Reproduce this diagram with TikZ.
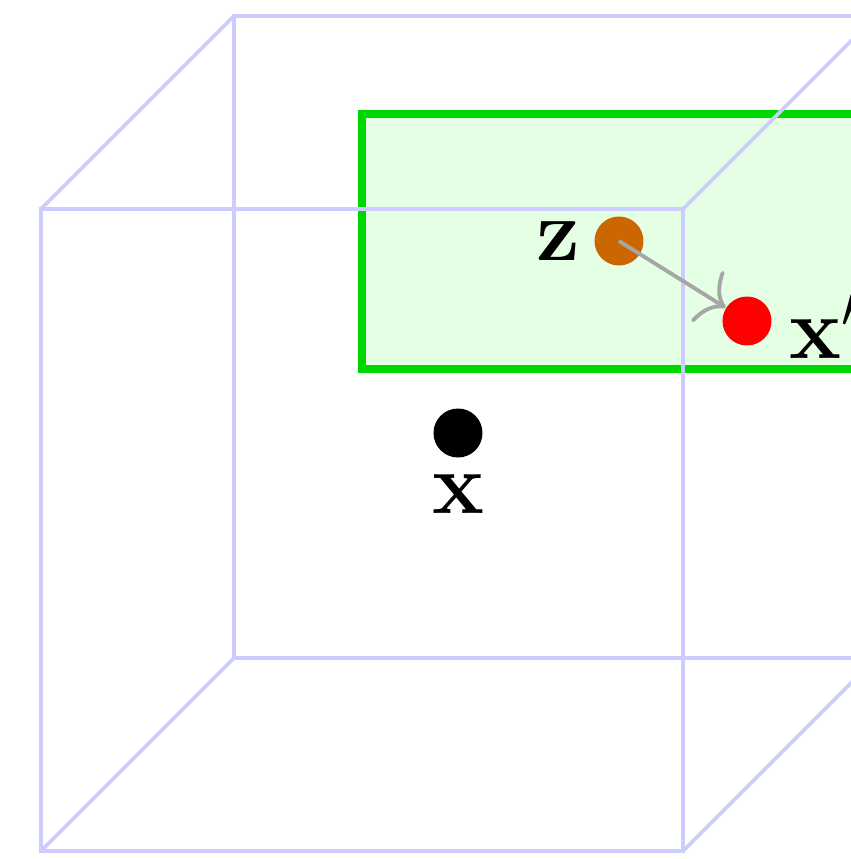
\documentclass[tikz,border=0pt]{standalone}
\usepackage{amsmath, amssymb}
\usepackage{tikz}
\usetikzlibrary{arrows.meta, positioning}
\definecolor{cubeBlue}{RGB}{204,204,255}
\definecolor{planeGreen}{RGB}{0,214,0}
\definecolor{zOrange}{RGB}{204,102,0}

\begin{document}
\begin{tikzpicture}[
    edge/.style={draw=cubeBlue, line width=1.1pt},
    plane/.style={draw=planeGreen, fill=green!10, line width=2pt},
    dot/.style={circle, inner sep=0pt, minimum size=0.49cm},
    lbl/.style={inner sep=0pt, font=\fontsize{23}{28}\selectfont},
    arr/.style={-{Computer Modern Rightarrow[length=6.5pt, width=17pt]}, line width=1.1pt, color=gray!70}
]
    \useasboundingbox (0,0) rectangle (8.51,8.59);
    \clip (0,0) rectangle (8.51,8.59);

    % Plane
    \draw[plane] (3.62,4.90) rectangle (9.5,7.45);

    % Cube
    \coordinate (f1) at (0.41,0.08);
    \coordinate (f2) at (6.83,0.08);
    \coordinate (f3) at (6.83,6.50);
    \coordinate (f4) at (0.41,6.50);
    \coordinate (b1) at (2.34,2.01);
    \coordinate (b2) at (8.76,2.01);
    \coordinate (b3) at (8.76,8.43);
    \coordinate (b4) at (2.34,8.43);
    \draw[edge] (b1) -- (b2) -- (b3) -- (b4) -- cycle;
    \draw[edge] (f1) -- (f2) -- (f3) -- (f4) -- cycle;
    \draw[edge] (f1) -- (b1);
    \draw[edge] (f2) -- (b2);
    \draw[edge] (f3) -- (b3);
    \draw[edge] (f4) -- (b4);

    % Points
    \node[dot, fill=black] (x) at (4.58,4.26) {};
    \node[dot, fill=zOrange] (z) at (6.19,6.18) {};
    \node[dot, fill=red] (xp) at (7.47,5.38) {};

    % Arrow
    \draw[arr] (z.center) -- (xp);

    % Labels
    \node[lbl, below=0.16cm of x] (xl) {$\mathbf{x}$};
    \node[lbl, left=0.13cm of z] (zl) {$\mathbf{z}$};
    \node[lbl, right=0.17cm of xp, yshift=-0.05cm] (xpl) {$\mathbf{x}'$};
\end{tikzpicture}
\end{document}
